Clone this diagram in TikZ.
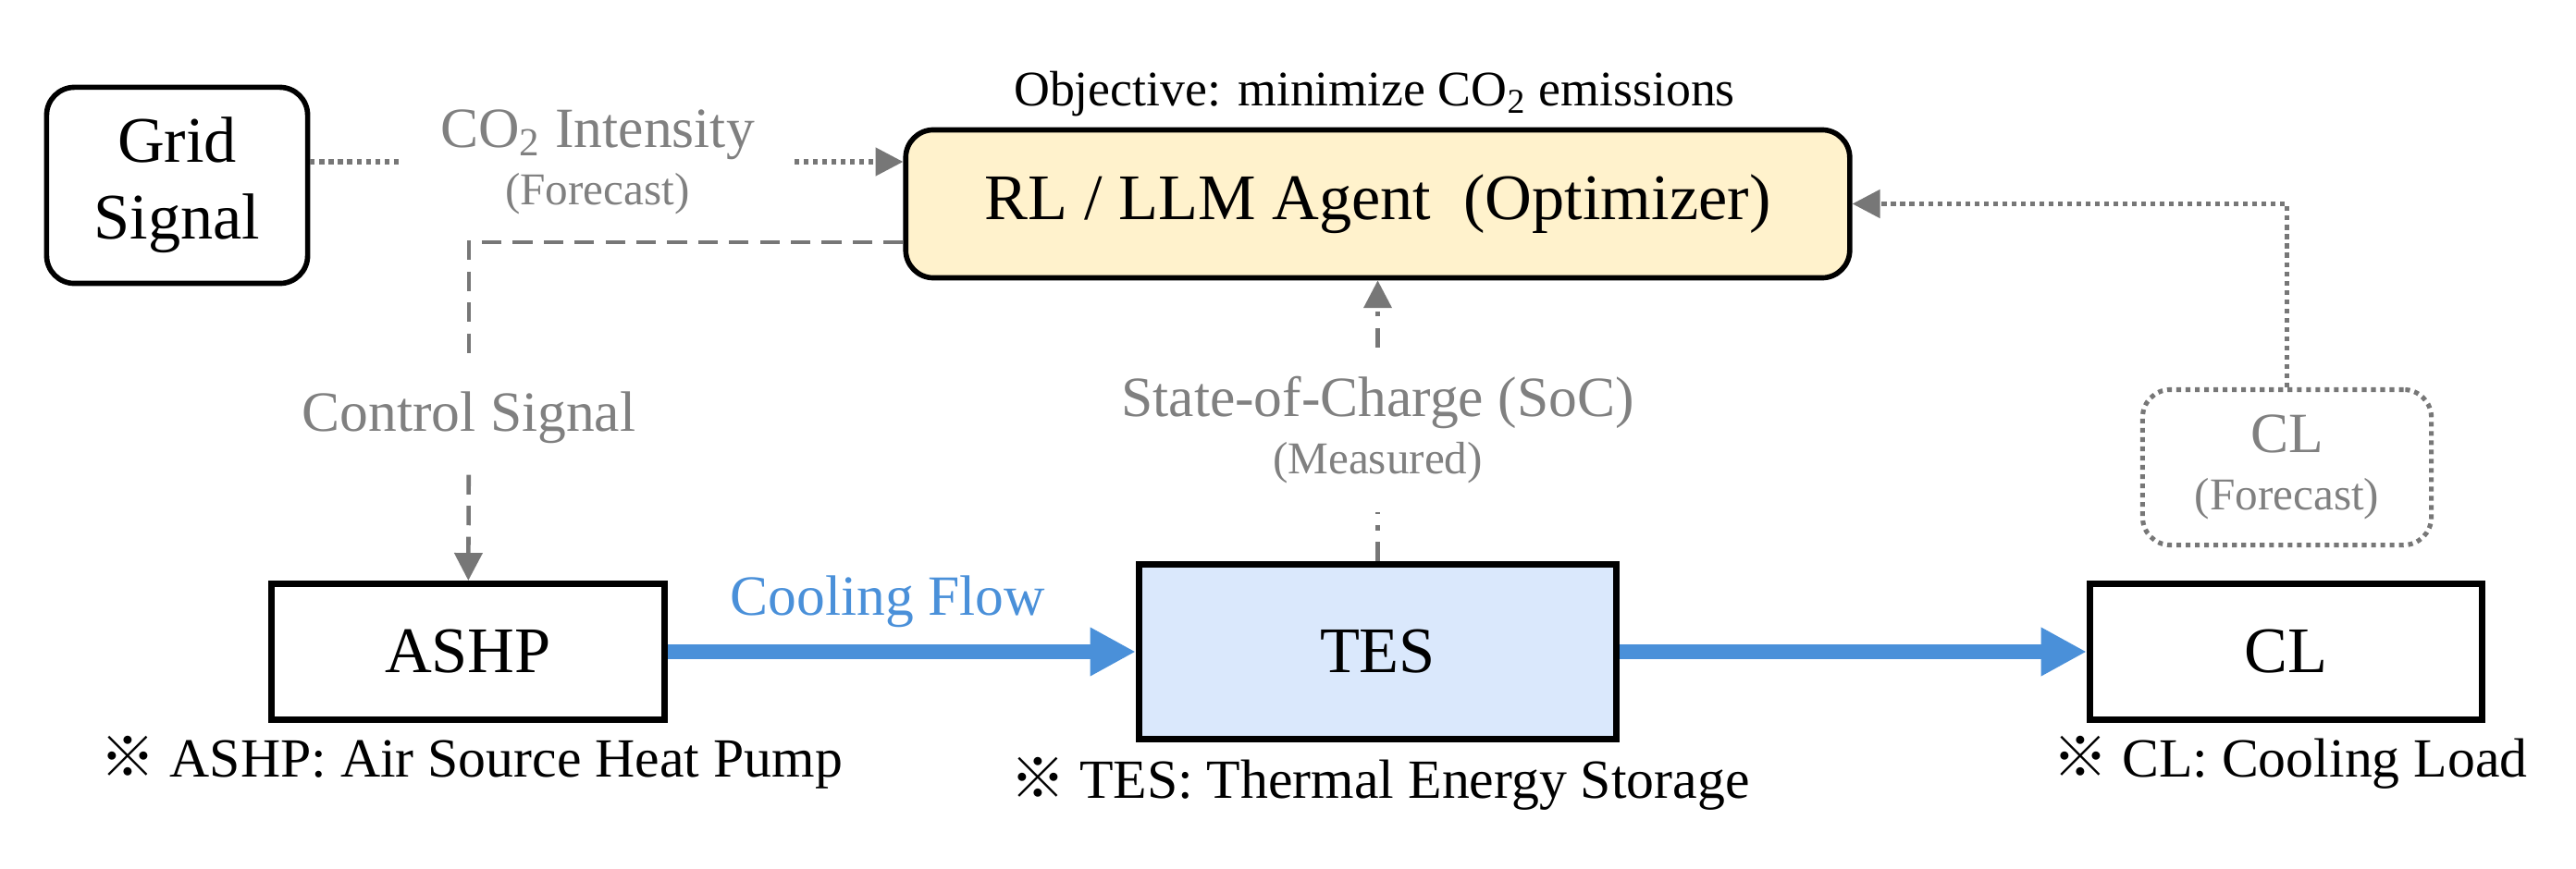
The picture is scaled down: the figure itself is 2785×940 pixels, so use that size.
\documentclass[tikz,border=0pt]{standalone}
\usepackage{fontspec}
\setmainfont{Liberation Serif}
\newfontfamily\refmark{Noto Sans CJK JP}
\usetikzlibrary{arrows.meta}
\definecolor{sigGray}{HTML}{777777}
\definecolor{txtGray}{HTML}{808080}
\definecolor{flowBlue}{HTML}{4A90D9}
\definecolor{agentFill}{HTML}{FFF2CC}
\definecolor{tesFill}{HTML}{DAE8FC}

\begin{document}
\begin{tikzpicture}[x=0.01cm,y=-0.01cm,
	every node/.style={inner sep=0pt},
	bigfont/.style={font=\fontsize{20}{23.5}\selectfont},
	lblfont/.style={font=\fontsize{17.5}{17.6}\selectfont,text=txtGray},
	roundbox/.style={draw,line width=1.6pt,rounded corners=0.3cm,align=center,bigfont},
	unitbox/.style={draw,line width=2pt,bigfont},
	note/.style={anchor=base,font=\fontsize{17}{20}\selectfont},
	dotline/.style={sigGray,line width=1.45pt,dash pattern=on 1.45pt off 1.4pt},
	ctrlline/.style={sigGray,line width=1.3pt,dash pattern=on 6pt off 3.5pt},
	socline/.style={sigGray,line width=1.3pt,dash pattern=on 6pt off 3.5pt on 1.5pt off 3.5pt},
	sigtip/.style={-{Triangle[length=8.5pt,width=8.5pt]}},
	flowarrow/.style={flowBlue,line width=4.3pt,-{Triangle[length=14pt,width=14pt]}}]

	\useasboundingbox (0,0) rectangle (2785,940);

	% top row
	\node[roundbox,minimum width=2.82cm,minimum height=2.12cm] (grid) at (191.5,200.5) {Grid\\Signal};
	\node[roundbox,fill=agentFill,minimum width=10.2cm,minimum height=1.6cm] (agent) at (1489.5,220.5) {RL / LLM Agent\ \ (Optimizer)};
	\node[anchor=base,font=\fontsize{15.3}{18}\selectfont] (goal) at (1486,115) {Objective: minimize CO\textsubscript{2} emissions};
	\node[lblfont,align=center,minimum width=4.24cm] (co2) at (646,175) {CO\textsubscript{2} Intensity\\{\fontsize{14}{17.6}\selectfont(Forecast)}};

	% signal labels
	\node[lblfont,minimum height=1.22cm] (ctrl) at (507,452) {Control Signal};
	\node[lblfont,align=center,minimum height=1.77cm] (soc) at (1489.5,465) {State-of-Charge (SoC)\\{\fontsize{14}{17.6}\selectfont(Measured)}};
	\node[draw,dotline,lblfont,align=center,rounded corners=0.3cm,minimum width=3.12cm,minimum height=1.68cm] (clfc) at (2472.5,505.5) {CL\\{\fontsize{14}{17.6}\selectfont(Forecast)}};

	% bottom row
	\node[unitbox,minimum width=4.25cm,minimum height=1.47cm] (ashp) at (506,705) {ASHP};
	\node[unitbox,fill=tesFill,minimum width=5.16cm,minimum height=1.89cm] (tes) at (1489.5,705) {TES};
	\node[unitbox,minimum width=4.24cm,minimum height=1.46cm] (cl) at (2471.5,705) {CL};

	\node[note] (ashpnote) at (510,840) {{\refmark ※} ASHP: Air Source Heat Pump};
	\node[note] (tesnote) at (1492,863) {{\refmark ※} TES: Thermal Energy Storage};
	\node[note] (clnote) at (2476,840) {{\refmark ※} CL: Cooling Load};

	% connectors
	\draw[dotline] (grid.east |- co2) -- (co2);
	\draw[dotline,sigtip] (co2) -- (agent.west |- co2);
	\coordinate (turn) at (507,262);
	\draw[ctrlline] (turn -| agent.west) -- (turn) -- (ctrl);
	\draw[ctrlline,sigtip] (ctrl) -- (ashp);
	\draw[socline] (tes) -- (soc);
	\draw[socline,sigtip] (soc) -- (agent);
	\draw[dotline,sigtip] (clfc) |- (agent);
	\draw[flowarrow] (ashp) -- node[pos=0.47,above=5.4pt,lblfont,text=flowBlue] (flowlbl) {Cooling Flow} (tes);
	\draw[flowarrow] (tes) -- (cl);

\end{tikzpicture}
\end{document}
